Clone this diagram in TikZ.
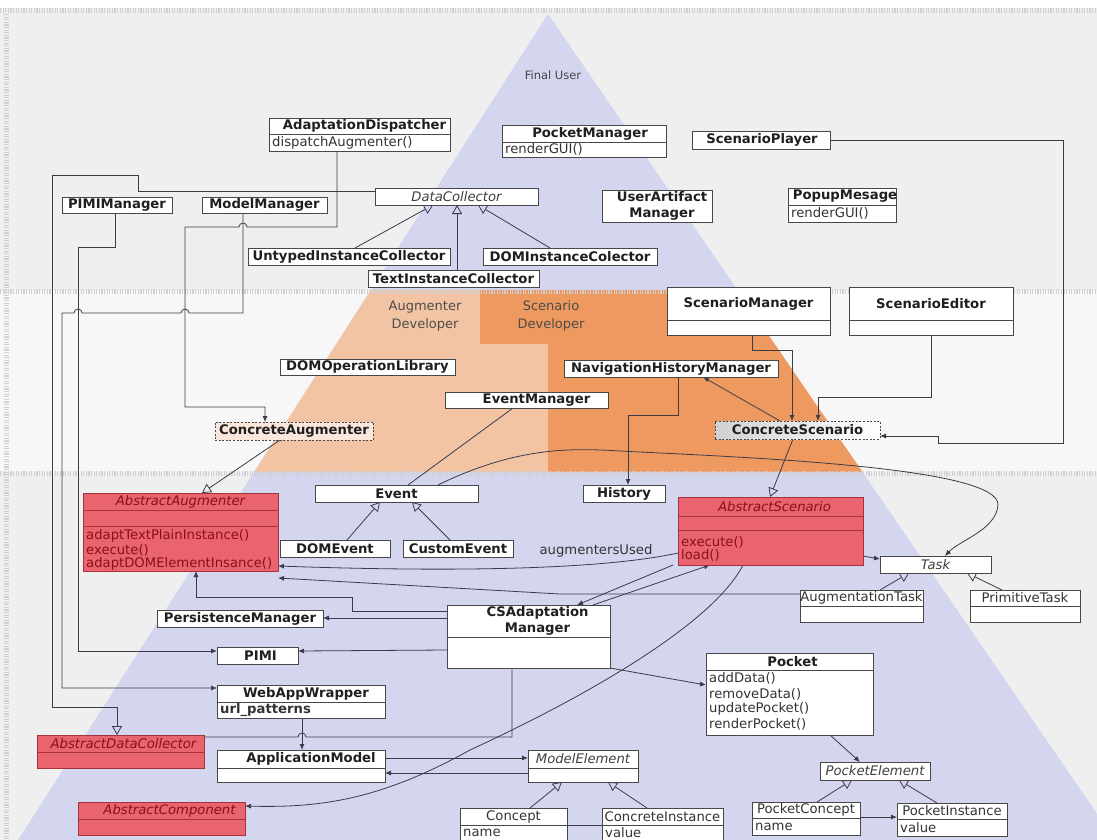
\documentclass[tikz,border=0pt]{standalone}
\usepackage{fontspec}
\setmainfont{DejaVu Sans}
\usetikzlibrary{arrows.meta,calc}

\definecolor{bggrey}{HTML}{EFEFEF}
\definecolor{bgmid}{HTML}{F7F7F7}
\definecolor{lav}{HTML}{D4D5EF}
\definecolor{peach}{HTML}{F3C4A4}
\definecolor{orng}{HTML}{EE9960}
\definecolor{redfill}{HTML}{E9646E}
\definecolor{redline}{HTML}{A8323A}
\definecolor{redtext}{HTML}{8A1018}
\definecolor{linec}{HTML}{3C3C48}
\definecolor{bandc}{HTML}{CFCFD4}

\pgfdeclarelayer{bg}
\pgfdeclarelayer{wires}
\pgfsetlayers{bg,wires,main}

\newcommand\fs{\fontsize{13.2}{16}\selectfont}
% divider inside a class box
\newcommand\hdiv[3][black!72]{\draw[draw=#1,line width=0.9pt] ([yshift=-#3pt]#2.north west) -- ([yshift=-#3pt]#2.north east);}
% class title: style, box, text, x offset, y offset from top
\newcommand\cttl[5][ttlb]{\node[#1] at ([xshift=#4pt,yshift=-#5pt]#2.north) {#3};}
% class member line: style, box, text, y offset from top
\newcommand\cmem[4][memb]{\node[#1] at ([xshift=3pt,yshift=-#4pt]#2.north west) {#3};}

\tikzset{
  box/.style={draw=black!72, fill=white, line width=0.9pt, inner sep=0pt, outer sep=0pt, anchor=north west},
  redbox/.style={box, draw=redline, fill=redfill},
  dashbox/.style={box, dash pattern=on 2pt off 1.6pt},
  ttlb/.style={font=\fs\bfseries, text=black!88, inner sep=0pt},
  ttli/.style={font=\fs\itshape, text=black!75, inner sep=0pt},
  ttlr/.style={font=\fs, text=black!80, inner sep=0pt},
  ttlred/.style={font=\fs\itshape, text=redtext, inner sep=0pt},
  memb/.style={anchor=west, font=\fs, text=black!80, inner sep=0pt},
  membold/.style={memb, font=\fs\bfseries},
  memred/.style={memb, text=redtext},
  lbl/.style={font=\fontsize{13}{18}\selectfont, text=black!70, inner sep=0pt},
  conn/.style={draw=linec, line width=0.8pt},
  fa/.style={conn, -{Latex[length=6pt,width=5pt]}},
  gen/.style={conn, -{Triangle[open,length=9pt,width=10pt]}},
  band/.style={draw=bandc, line width=5pt, dash pattern=on 1.2pt off 1.4pt},
  hop/.style={start angle=0, end angle=180, radius=4pt},
}

\begin{document}
\begin{tikzpicture}[x=1pt,y=-1pt]
\useasboundingbox (0,0) rectangle (1097,840);
\clip (0,0) rectangle (1097,840);

% ---------- backdrop: bands and role pyramid
\begin{pgfonlayer}{bg}
  \fill[white] (0,0) rectangle (1097,840);
  \fill[bggrey] (0,8) rectangle (1097,840);
  \fill[bgmid] (0,290) rectangle (1097,472);
  \begin{scope}
    \clip (548,14) -- (18,840) -- (1115,840) -- cycle;
    \fill[lav] (0,0) rectangle (1097,840);
    \fill[peach] (0,290) rectangle (1097,472);
    \fill[orng] (480,290) -- (1097,290) -- (1097,472) -- (548,472) -- (548,344) -- (480,344) -- cycle;
  \end{scope}
  \draw[band] (0,11) -- (1097,11);
  \draw[band] (0,291) -- (1097,291);
  \draw[band] (0,473) -- (1097,473);
  \draw[band] (6,14) -- (6,840);
\end{pgfonlayer}

% ---------- role labels
\node[lbl, font=\fontsize{11.5}{14}\selectfont, text=black!72] (fu) at (553,75) {Final User};
\node[lbl, align=center] (augdev) at (425,316) {Augmenter\\Developer};
\node[lbl, align=center] (scendev) at (551,316) {Scenario\\Developer};

% ---------- top band classes
\node[box,minimum width=181pt,minimum height=33pt] (ad) at (269,118) {};
\hdiv{ad}{16}
\cttl{ad}{AdaptationDispatcher}{5}{8}
\cmem{ad}{dispatchAugmenter()}{24.5}

\node[box,minimum width=164pt,minimum height=32pt] (pm) at (502,125) {};
\hdiv{pm}{17}
\cttl{pm}{PocketManager}{6}{8.5}
\cmem{pm}{renderGUI()}{24.5}

\node[box,minimum width=138pt,minimum height=18pt] (sp) at (692,131) {};
\cttl{sp}{ScenarioPlayer}{1}{9}

\node[box,minimum width=110pt,minimum height=16pt] (pimim) at (62,197) {};
\cttl{pimim}{PIMIManager}{0}{8}

\node[box,minimum width=125pt,minimum height=16pt] (mm) at (202,197) {};
\cttl{mm}{ModelManager}{0}{8}

\node[box,minimum width=163pt,minimum height=17pt] (dc) at (375,188) {};
\cttl[ttli]{dc}{DataCollector}{0}{8.5}

\node[box,minimum width=202pt,minimum height=17pt] (uic) at (248,248) {};
\cttl{uic}{UntypedInstanceCollector}{0}{8.5}

\node[box,minimum width=174pt,minimum height=17pt] (dic) at (483,248) {};
\cttl{dic}{DOMInstanceColector}{0}{8.5}

\node[box,minimum width=171pt,minimum height=17pt] (tic) at (368,270) {};
\cttl{tic}{TextInstanceCollector}{0}{8.5}

\node[box,minimum width=110pt,minimum height=32pt] (uam) at (602,190) {};
\node[ttlb,align=center] at ([xshift=5pt]uam.center) {UserArtifact\\Manager};

\node[box,minimum width=108pt,minimum height=34pt] (pop) at (788,188) {};
\hdiv{pop}{17}
\cttl{pop}{PopupMesage}{3}{8.5}
\cmem{pop}{renderGUI()}{25.5}

% ---------- middle band classes
\node[box,minimum width=163pt,minimum height=48pt] (smgr) at (667,287) {};
\hdiv{smgr}{33}
\cttl{smgr}{ScenarioManager}{0}{17}

\node[box,minimum width=164pt,minimum height=48pt] (sed) at (849,287) {};
\hdiv{sed}{33}
\cttl{sed}{ScenarioEditor}{0}{17}

\node[box,minimum width=175pt,minimum height=16pt] (dol) at (280,359) {};
\cttl{dol}{DOMOperationLibrary}{0}{8}

\node[box,minimum width=214pt,minimum height=17pt] (nhm) at (564,360) {};
\cttl{nhm}{NavigationHistoryManager}{0}{8.5}

\node[box,minimum width=163pt,minimum height=16pt] (em) at (445,392) {};
\cttl{em}{EventManager}{10}{8}

\node[dashbox,fill=white!60!peach,minimum width=158pt,minimum height=18pt] (ca) at (215,422) {};
\cttl{ca}{ConcreteAugmenter}{0}{9}

\node[dashbox,left color=black!18,right color=white,minimum width=165pt,minimum height=18pt] (cs) at (715,421) {};
\cttl{cs}{ConcreteScenario}{0}{9}

% ---------- bottom band classes
\node[redbox,minimum width=195pt,minimum height=78pt] (aa) at (83,493) {};
\hdiv[redline]{aa}{17}
\hdiv[redline]{aa}{33}
\cttl[ttlred]{aa}{AbstractAugmenter}{0}{9}
\cmem[memred]{aa}{adaptTextPlainInstance()}{43}
\cmem[memred]{aa}{execute()}{57}
\cmem[memred]{aa}{adaptDOMElementInsance()}{71}

\node[box,minimum width=163pt,minimum height=17pt] (ev) at (315,485) {};
\cttl{ev}{Event}{0}{8.5}

\node[box,minimum width=82pt,minimum height=17pt] (hist) at (583,485) {};
\cttl{hist}{History}{0}{8.5}

\node[box,minimum width=110pt,minimum height=17pt] (domev) at (280,540) {};
\cttl{domev}{DOMEvent}{0}{8.5}

\node[box,minimum width=110pt,minimum height=17pt] (cev) at (403,540) {};
\cttl{cev}{CustomEvent}{0}{8.5}

\node[redbox,minimum width=185pt,minimum height=68pt] (as) at (678,497) {};
\hdiv[redline]{as}{19}
\hdiv[redline]{as}{33}
\cttl[ttlred]{as}{AbstractScenario}{4}{10}
\cmem[memred]{as}{execute()}{45}
\cmem[memred]{as}{load()}{58}

\node[box,minimum width=111pt,minimum height=17pt] (task) at (880,556) {};
\cttl[ttli]{task}{Task}{0}{8.5}

\node[box,minimum width=123pt,minimum height=32pt] (augt) at (800,590) {};
\hdiv{augt}{16}
\cttl[ttlr]{augt}{AugmentationTask}{0}{8}

\node[box,minimum width=110pt,minimum height=32pt] (pt) at (970,590) {};
\hdiv{pt}{16}
\cttl[ttlr]{pt}{PrimitiveTask}{0}{8}

\node[box,minimum width=163pt,minimum height=63pt] (csam) at (447,605) {};
\hdiv{csam}{32}
\node[ttlb,align=center] at ([xshift=9pt,yshift=-16pt]csam.north) {CSAdaptation\\Manager};

\node[box,minimum width=166pt,minimum height=17pt] (perm) at (157,610) {};
\cttl{perm}{PersistenceManager}{0}{8.5}

\node[box,minimum width=81pt,minimum height=17pt] (pimi) at (217,647) {};
\cttl{pimi}{PIMI}{3}{8.5}

\node[box,minimum width=168pt,minimum height=33pt] (waw) at (217,685) {};
\hdiv{waw}{17}
\cttl{waw}{WebAppWrapper}{5}{8.5}
\cmem[membold]{waw}{url\_patterns}{25}

\node[redbox,minimum width=167pt,minimum height=33pt] (adc) at (37,735) {};
\hdiv[redline]{adc}{17}
\cttl[ttlred]{adc}{AbstractDataCollector}{3}{8.5}

\node[box,minimum width=168pt,minimum height=32pt] (appm) at (217,750) {};
\hdiv{appm}{18}
\cttl{appm}{ApplicationModel}{10}{9}

\node[redbox,minimum width=167pt,minimum height=33pt] (acomp) at (78,802) {};
\hdiv[redline]{acomp}{17}
\cttl[ttlred]{acomp}{AbstractComponent}{8}{8.5}

\node[box,minimum width=110pt,minimum height=32pt] (me) at (528,750) {};
\hdiv{me}{18}
\cttl[ttli]{me}{ModelElement}{0}{9}

\node[box,minimum width=107pt,minimum height=40pt] (concept) at (460,808) {};
\hdiv{concept}{17}
\cttl[ttlr]{concept}{Concept}{0}{8.5}
\cmem{concept}{name}{25}

\node[box,minimum width=121pt,minimum height=40pt] (ci) at (602,808) {};
\hdiv{ci}{17}
\cttl[ttlr]{ci}{ConcreteInstance}{0}{8.5}
\cmem{ci}{value}{25}

\node[box,minimum width=167pt,minimum height=82pt] (pocket) at (706,653) {};
\hdiv{pocket}{17}
\cttl{pocket}{Pocket}{3}{8.5}
\cmem{pocket}{addData()}{25}
\cmem{pocket}{removeData()}{41}
\cmem{pocket}{updatePocket()}{56}
\cmem{pocket}{renderPocket()}{71}

\node[box,minimum width=110pt,minimum height=18pt] (pe) at (820,762) {};
\cttl[ttli]{pe}{PocketElement}{0}{9}

\node[box,minimum width=108pt,minimum height=33pt] (pc) at (752,802) {};
\hdiv{pc}{16}
\cttl[ttlr]{pc}{PocketConcept}{0}{8}
\cmem{pc}{name}{24.5}

\node[box,minimum width=110pt,minimum height=33pt] (pi) at (897,803) {};
\hdiv{pi}{16}
\cttl[ttlr]{pi}{PocketInstance}{0}{8}
\cmem{pi}{value}{24.5}

% ---------- connectors (small hops where orthogonal wires cross)
\begin{pgfonlayer}{wires}
  % top band
  \draw[gen] (dc.west |- 0,191) -- (138,191) -- (138,175) -- (52,175) -- (52,707) -- (117,707) -- (adc.north -| 117,0);
  \draw[fa] (ad.south -| 337,0) -- (337,227) -- (247,227) arc[hop] -- (185,227) -- (185,407) -- (265,407) -- (ca.north -| 265,0);
  \draw[fa] (mm.south -| 243,0) -- (243,313) -- (189,313) arc[hop] -- (82,313) arc[hop] -- (62,313) -- (62,688) -- (waw.west |- 0,688);
  \draw[fa] (pimim.south -| 115,0) -- (115,247) -- (78,247) -- (78,651) -- (pimi.west |- 0,651);
  \draw[gen] (uic.north -| 355,0) -- (dc.south -| 433,0);
  \draw[gen] (tic.north -| 457,0) -- (dc.south -| 457,0);
  \draw[gen] (dic.north -| 550,0) -- (dc.south -| 478,0);
  \draw[fa] (sp.east) -- (1063,140) -- (1063,443) -- (938,443) -- (938,436) -- (cs.east |- 0,436);
  % middle band
  \draw[fa] (smgr.south -| 752,0) -- (752,350) -- (792,350) -- (cs.north -| 792,0);
  \draw[fa] (sed.south -| 931,0) -- (931,397) -- (818,397) -- (cs.north -| 818,0);
  \draw[fa] (cs.north -| 780,0) -- (nhm.south -| 703,0);
  \draw[fa] (nhm.south -| 678,0) -- (678,415) -- (628,415) -- (hist.north -| 628,0);
  \draw[conn] (em.south -| 513,0) -- (ev.north -| 408,0);
  \draw[fa] (ev.north -| 438,0) .. controls (530,440) and (590,450) .. (640,452)
            .. controls (760,458) and (1000,468) .. (998,505)
            .. controls (996,530) and (960,540) .. (task.north -| 945,0);
  \draw[gen] (cs.south -| 793,0) -- (as.north -| 770,0);
  \draw[gen] (ca.south -| 280,0) -- (aa.north -| 202,0);
  % bottom band
  \draw[gen] (domev.north -| 347,0) -- (ev.south -| 380,0);
  \draw[gen] (cev.north -| 450,0) -- (ev.south -| 412,0);
  \draw[fa] (as.west |- 0,553) .. controls (600,570) and (450,572) .. (aa.east |- 0,566);
  \draw[fa] (augt.west |- 0,594) -- (560,594) -- (aa.east |- 0,578);
  \draw[fa] (csam.west |- 0,611) -- (352,611) -- (352,597) -- (196,597) -- (aa.south -| 196,0);
  \draw[fa] (csam.west |- 0,618) -- (perm.east |- 0,618);
  \draw[fa] (csam.west |- 0,650) -- (pimi.east |- 0,651);
  \draw[conn] (csam.south -| 512,0) -- (512,737) -- (306,737) arc[hop] -- (adc.east |- 0,737);
  \draw[fa] (waw.south -| 302,0) -- (appm.north -| 302,0);
  \draw[fa] (appm.east |- 0,758) -- (me.west |- 0,758);
  \draw[fa] (me.west |- 0,773) -- (appm.east |- 0,773);
  \draw[fa] (as.south -| 743,0) .. controls (715,620) and (600,690) .. (470,750)
            .. controls (380,800) and (320,808) .. (acomp.east |- 0,806);
  \draw[fa] (csam.north -| 593,0) -- (as.south -| 710,0);
  \draw[fa] (as.south -| 673,0) -- (csam.north -| 577,0);
  \draw[fa] (csam.south east) -- (pocket.west |- 0,685);
  \draw[fa] (as.east |- 0,556) -- (task.west |- 0,559);
  \draw[gen] (augt.north -| 880,0) -- (task.south -| 909,0);
  \draw[gen] (pt.north -| 1002,0) -- (task.south -| 967,0);
  \draw[fa] (pocket.south -| 830,0) -- (pe.north -| 860,0);
  \draw[gen] (pc.north -| 817,0) -- (pe.south -| 852,0);
  \draw[gen] (pi.north -| 937,0) -- (pe.south -| 899,0);
  \draw[fa] (pc.east |- 0,817) -- (pi.west |- 0,817);
  \draw[gen] (concept.north -| 530,0) -- (me.south -| 562,0);
  \draw[gen] (ci.north -| 647,0) -- (me.south -| 608,0);
  \draw[conn] (concept.east |- 0,825) -- (ci.west |- 0,825);
\end{pgfonlayer}

\node[lbl, font=\fs, text=black!80] (augused) at (596,551) {augmentersUsed};
\end{tikzpicture}
\end{document}
